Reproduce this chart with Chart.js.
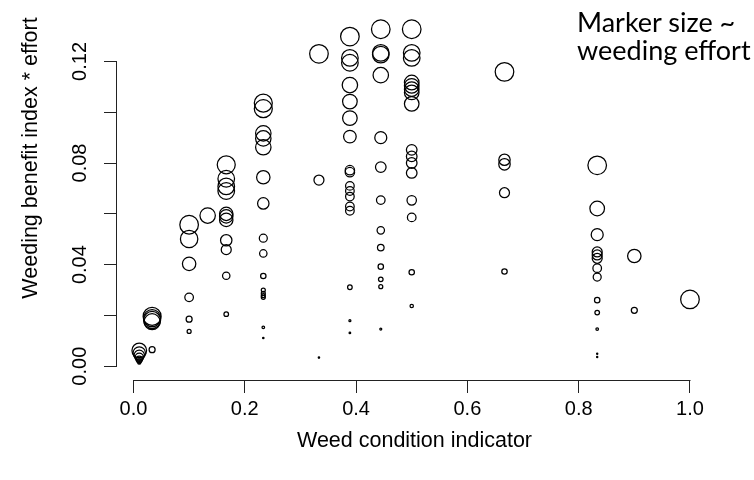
<!DOCTYPE html>
<html>
<head>
<meta charset="utf-8">
<script src="https://cdn.jsdelivr.net/npm/chart.js@4.4.1/dist/chart.umd.min.js"></script>
<style>
    html, body { margin: 0; padding: 0; background: #fff; }
    #wrap { position: relative; width: 754px; height: 480px; }
    #note { position: absolute; left: 577px; top: 8px; font-family: Lato, sans-serif; font-size: 27px; line-height: 28px; color: #000; white-space: nowrap; }
</style>
</head>
<body>
<div id="wrap">
    <canvas id="chart" width="754" height="480"></canvas>
    <div id="note">Marker size ~<br>weeding effort</div>
</div>
<script>
// x: weed condition indicator, y: weeding benefit index * effort, effort: marker size
const weedCondition = [
    0.0104, 0.0104, 0.0104, 0.0104, 0.0104, 0.0104, 0.0104,
    0.0335, 0.0335, 0.0335, 0.0335, 0.0335,
    0.1, 0.1, 0.1, 0.1, 0.1, 0.1,
    0.1333,
    0.1667, 0.1667, 0.1667, 0.1667, 0.1667, 0.1667, 0.1667, 0.1667, 0.1667, 0.1667, 0.1667,
    0.2333, 0.2333, 0.2333, 0.2333, 0.2333, 0.2333, 0.2333, 0.2333, 0.2333, 0.2333, 0.2333, 0.2333, 0.2333, 0.2333, 0.2333, 0.2333,
    0.3333, 0.3333, 0.3333,
    0.3889, 0.3889, 0.3889, 0.3889, 0.3889, 0.3889, 0.3889, 0.3889, 0.3889, 0.3889, 0.3889, 0.3889, 0.3889, 0.3889, 0.3889, 0.3889, 0.3889,
    0.4444, 0.4444, 0.4444, 0.4444, 0.4444, 0.4444, 0.4444, 0.4444, 0.4444, 0.4444, 0.4444, 0.4444, 0.4444,
    0.5, 0.5, 0.5, 0.5, 0.5, 0.5, 0.5, 0.5, 0.5, 0.5, 0.5, 0.5, 0.5, 0.5, 0.5, 0.5,
    0.6667, 0.6667, 0.6667, 0.6667, 0.6667,
    0.8333, 0.8333, 0.8333, 0.8333, 0.8333, 0.8333, 0.8333, 0.8333, 0.8333, 0.8333, 0.8333, 0.8333, 0.8333,
    0.9, 0.9,
    1.0
];
const benefitEffort = [
    0.0062, 0.0052, 0.0043, 0.0035, 0.0027, 0.0020, 0.0013,
    0.0065, 0.0196, 0.0189, 0.0182, 0.0175,
    0.0557, 0.0501, 0.0403, 0.0271, 0.0185, 0.0137,
    0.0593,
    0.0793, 0.0738, 0.0708, 0.0690, 0.0600, 0.0590, 0.0576, 0.0496, 0.0459, 0.0356, 0.0205,
    0.1036, 0.1014, 0.0917, 0.0897, 0.0862, 0.0744, 0.0641, 0.0504, 0.0444, 0.0355, 0.0300, 0.0287, 0.0278, 0.0271, 0.0153, 0.0111,
    0.1230, 0.0733, 0.0034,
    0.1298, 0.1214, 0.1195, 0.1107, 0.1042, 0.0977, 0.0904, 0.0772, 0.0764, 0.0710, 0.0690, 0.0668, 0.0629, 0.0612, 0.0311, 0.0179, 0.0131,
    0.1327, 0.1234, 0.1227, 0.1146, 0.0900, 0.0784, 0.0654, 0.0535, 0.0467, 0.0392, 0.0342, 0.0313, 0.0146,
    0.1327, 0.1234, 0.1214, 0.1117, 0.1104, 0.1091, 0.1078, 0.1033, 0.0852, 0.0826, 0.0800, 0.0761, 0.0653, 0.0586, 0.0370, 0.0237,
    0.1159, 0.0813, 0.0795, 0.0683, 0.0373,
    0.0791, 0.0621, 0.0518, 0.0450, 0.0438, 0.0425, 0.0386, 0.0351, 0.0260, 0.0211, 0.0146, 0.0049, 0.0036,
    0.0434, 0.0220,
    0.0263
];
const effort = [
    0.73, 0.62, 0.52, 0.42, 0.32, 0.23, 0.13,
    0.30, 0.90, 0.85, 0.85, 0.80,
    0.93, 0.87, 0.67, 0.43, 0.30, 0.20,
    0.77,
    0.90, 0.83, 0.83, 0.83, 0.67, 0.67, 0.67, 0.57, 0.50, 0.37, 0.23,
    0.90, 0.90, 0.77, 0.77, 0.77, 0.67, 0.57, 0.40, 0.37, 0.27, 0.20, 0.20, 0.20, 0.20, 0.13, 0.07,
    0.93, 0.50, 0.07,
    0.93, 0.83, 0.83, 0.77, 0.73, 0.73, 0.63, 0.47, 0.47, 0.43, 0.43, 0.43, 0.43, 0.43, 0.23, 0.10, 0.08,
    0.93, 0.83, 0.83, 0.77, 0.60, 0.53, 0.43, 0.37, 0.33, 0.27, 0.23, 0.20, 0.10,
    0.93, 0.83, 0.83, 0.73, 0.73, 0.73, 0.73, 0.73, 0.53, 0.53, 0.53, 0.53, 0.47, 0.43, 0.27, 0.17,
    0.93, 0.57, 0.57, 0.50, 0.27,
    0.93, 0.73, 0.60, 0.50, 0.50, 0.50, 0.43, 0.40, 0.27, 0.23, 0.13, 0.06, 0.06,
    0.67, 0.30,
    0.93
];
const xTicks = [0, 0.2, 0.4, 0.6, 0.8, 1.0];
const yTicks = [0, 0.02, 0.04, 0.06, 0.08, 0.10, 0.12];
const yLabelled = [0, 0.04, 0.08, 0.12];

const fontFamily = '"Liberation Sans", Arial, sans-serif';

// R style axes: line only from first to last tick, plus the y label
const rAxes = {
    id: 'rAxes',
    afterDraw(chart) {
        const {ctx, chartArea, scales: {x, y}} = chart;
        ctx.save();
        ctx.strokeStyle = '#222';
        ctx.lineWidth = 1;
        ctx.beginPath();
        const by = Math.round(chartArea.bottom) + 0.5;
        ctx.moveTo(Math.round(x.getPixelForValue(xTicks[0])) + 0.5, by);
        ctx.lineTo(Math.round(x.getPixelForValue(xTicks[xTicks.length - 1])) + 0.5, by);
        const lx = Math.round(chartArea.left) - 0.5;
        ctx.moveTo(lx, Math.round(y.getPixelForValue(yTicks[0])) + 0.5);
        ctx.lineTo(lx, Math.round(y.getPixelForValue(yTicks[yTicks.length - 1])) + 0.5);
        ctx.stroke();

        ctx.translate(31, 158);
        ctx.rotate(-Math.PI / 2);
        ctx.font = '21.5px ' + fontFamily;
        ctx.fillStyle = '#000';
        ctx.textAlign = 'center';
        ctx.textBaseline = 'middle';
        ctx.fillText('Weeding benefit index * effort', 0, 0);
        ctx.restore();
    }
};

new Chart(document.getElementById('chart'), {
    type: 'bubble',
    data: {
        datasets: [{
            data: weedCondition.map((v, i) => ({x: v, y: benefitEffort[i], r: effort[i] * 10})),
            backgroundColor: 'rgba(0,0,0,0)',
            borderColor: '#000',
            borderWidth: 1.25,
            hoverRadius: 0,
            clip: false
        }]
    },
    options: {
        responsive: false,
        devicePixelRatio: 1,
        animation: false,
        events: [],
        layout: { padding: { left: 0, right: 42, top: 11, bottom: 0 } },
        plugins: {
            legend: { display: false },
            tooltip: { enabled: false }
        },
        scales: {
            x: {
                type: 'linear',
                min: -0.0296,
                max: 1.0396,
                afterBuildTicks: s => { s.ticks = xTicks.map(v => ({value: v})); },
                afterFit: s => { s.height = 100; },
                border: { display: false },
                grid: { drawOnChartArea: false, drawTicks: true, tickLength: 13, color: '#222' },
                ticks: {
                    autoSkip: false, maxRotation: 0, padding: 4, color: '#000',
                    font: { family: fontFamily, size: 20 },
                    callback: v => v.toFixed(1)
                },
                title: {
                    display: true, text: 'Weed condition indicator', color: '#000',
                    font: { family: fontFamily, size: 21.5 },
                    padding: { top: 0, bottom: 26 }
                }
            },
            y: {
                type: 'linear',
                min: -0.00544,
                max: 0.1379,
                afterBuildTicks: s => { s.ticks = yTicks.map(v => ({value: v})); },
                afterFit: s => { s.width = 117; },
                border: { display: false },
                grid: { drawOnChartArea: false, drawTicks: true, tickLength: 13, color: '#222' },
                ticks: {
                    autoSkip: false, minRotation: 90, maxRotation: 90, crossAlign: 'center', padding: 4, color: '#000',
                    font: { family: fontFamily, size: 20 },
                    callback: v => yLabelled.some(l => Math.abs(l - v) < 1e-9) ? v.toFixed(2) : ''
                }
            }
        }
    },
    plugins: [rAxes]
});
</script>
</body>
</html>
